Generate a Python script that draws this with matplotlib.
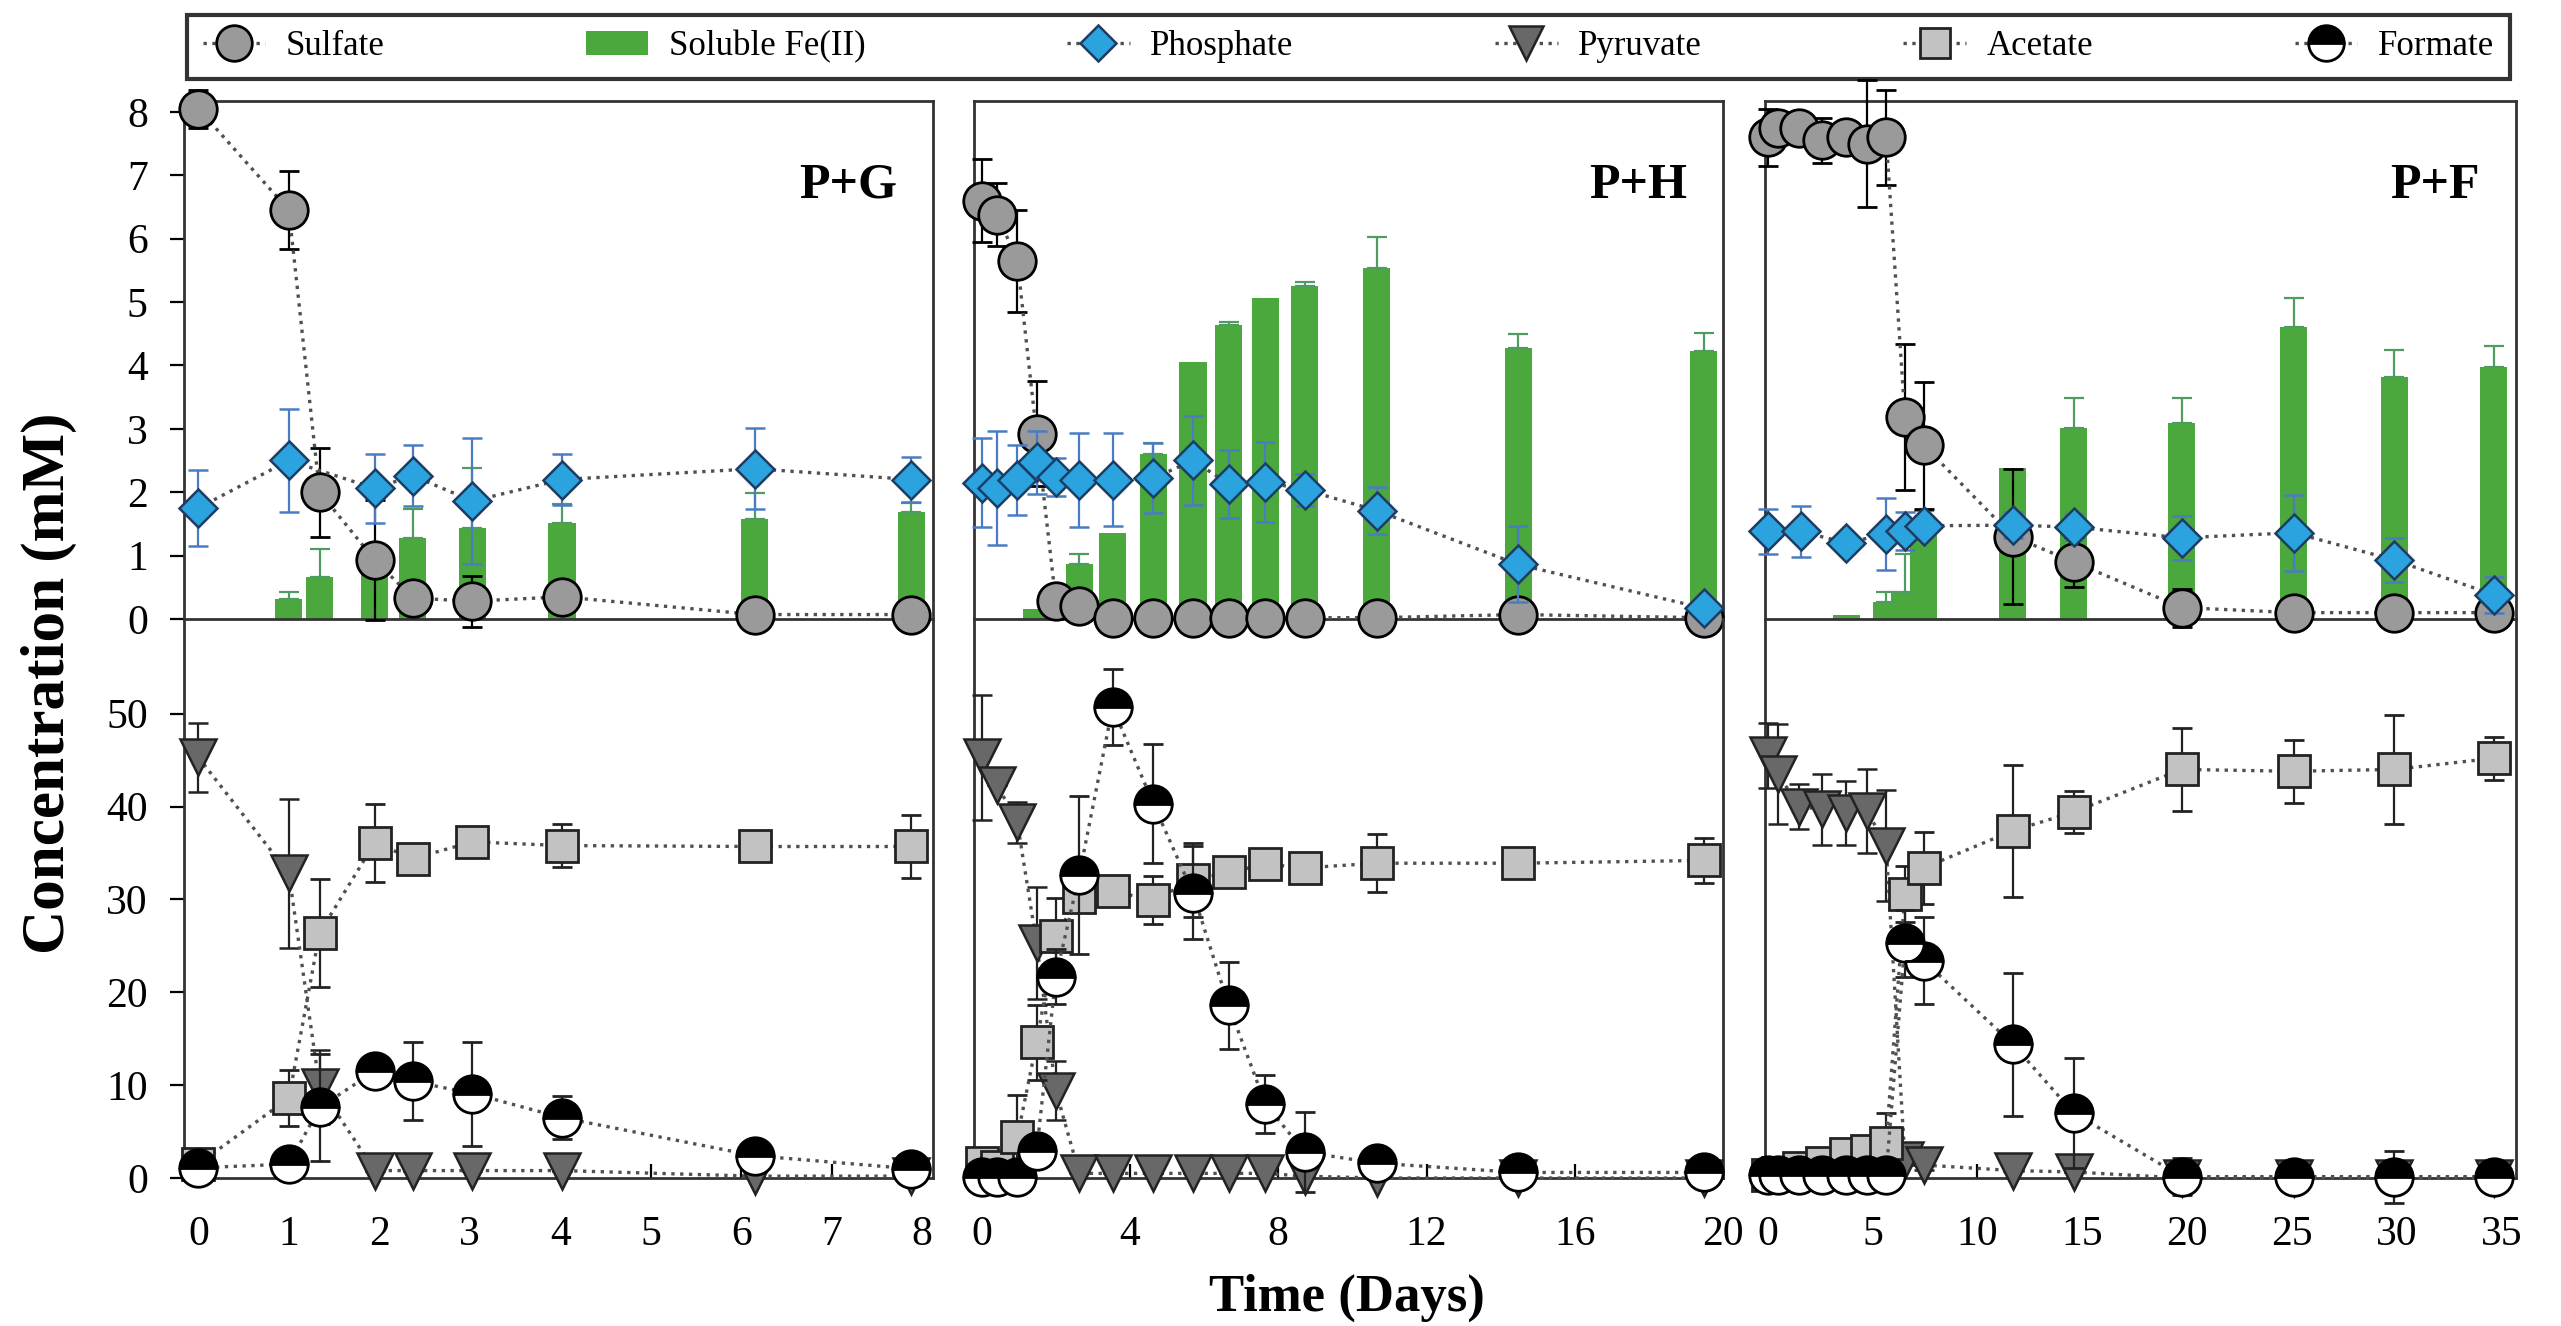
import matplotlib
matplotlib.use('Agg')
import matplotlib.pyplot as plt
import numpy as np
from matplotlib.lines import Line2D
from matplotlib.patches import Patch

plt.rcParams['font.family'] = ['Liberation Serif', 'DejaVu Serif']

# ---- data ----
# P+G
pg_days = [0, 1, 1.34, 1.95, 2.37, 3.03, 4.02, 6.15, 7.88]
pg_sulfate = [8.05, 6.45, 2.0, 0.93, 0.33, 0.28, 0.35, 0.07, 0.07]
pg_sulfate_err = [0.3, 0.62, 0.7, 0.95, 0.1, 0.4, 0.1, 0.05, 0.05]
pg_phos_days = [0, 1, 1.95, 2.37, 3.03, 4.02, 6.15, 7.88]
pg_phosphate = [1.75, 2.5, 2.06, 2.26, 1.86, 2.2, 2.37, 2.2]
pg_phosphate_err = [0.6, 0.82, 0.55, 0.48, 1.0, 0.4, 0.64, 0.35]
pg_fe_days = [1, 1.34, 1.95, 2.37, 3.03, 4.02, 6.15, 7.88]
pg_fe = [0.31, 0.67, 0.85, 1.28, 1.43, 1.51, 1.58, 1.68]
pg_fe_err = [0.12, 0.43, 0, 0.45, 0.95, 0.3, 0.41, 0.15]
pg_pyruvate = [45.3, 32.8, 9.8, 0.8, 0.8, 0.8, 0.8, 0.2, 0.2]
pg_pyruvate_err = [3.7, 8.0, 4.0, 0, 0, 0, 0, 0, 0]
pg_acetate = [1.5, 8.6, 26.4, 36.1, 34.4, 36.2, 35.8, 35.7, 35.7]
pg_acetate_err = [0.8, 3.0, 5.8, 4.2, 0.5, 0.5, 2.3, 0.5, 3.4]
pg_formate = [1.1, 1.5, 7.6, 11.5, 10.4, 9.1, 6.5, 2.4, 1.0]
pg_formate_err = [0.5, 0.5, 5.8, 1.0, 4.2, 5.6, 2.3, 1.5, 0.5]

# P+H
ph_days = [0, 0.42, 0.96, 1.48, 2.0, 2.63, 3.53, 4.63, 5.7, 6.66, 7.65, 8.71, 10.66, 14.47, 19.48]
ph_sulfate = [6.6, 6.38, 5.65, 2.92, 0.28, 0.21, 0.02, 0.02, 0.02, 0.02, 0.02, 0.02, 0.02, 0.07, 0.02]
ph_sulfate_err = [0.65, 0.5, 0.8, 0.83, 0.1, 0.05, 0, 0, 0, 0, 0, 0, 0, 0, 0]
ph_phosphate = [2.15, 2.06, 2.19, 2.47, 2.24, 2.19, 2.2, 2.22, 2.5, 2.13, 2.16, 2.04, 1.71, 0.86, 0.17]
ph_phosphate_err = [0.7, 0.9, 0.55, 0.5, 0.3, 0.74, 0.74, 0.55, 0.7, 0.53, 0.63, 0.25, 0.37, 0.6, 0.1]
ph_fe_days = [1.48, 2.63, 3.53, 4.63, 5.7, 6.66, 7.65, 8.71, 10.66, 14.47, 19.48]
ph_fe = [0.15, 0.86, 1.36, 2.6, 4.05, 4.63, 5.06, 5.26, 5.53, 4.27, 4.23]
ph_fe_err = [0, 0.17, 0, 0.18, 0, 0.05, 0, 0.05, 0.5, 0.23, 0.28]
ph_pyruvate = [45.3, 42.3, 38.3, 25.3, 9.4, 0.5, 0.5, 0.5, 0.5, 0.5, 0.5, 0.2, 0, 0, 0]
ph_pyruvate_err = [6.7, 0, 2.2, 6.0, 3.2, 0, 0, 0, 0, 0, 0, 0, 0, 0, 0]
ph_acetate = [1.6, 1.2, 4.4, 14.6, 26.1, 30.3, 30.9, 29.9, 32.1, 32.9, 33.8, 33.4, 33.9, 33.9, 34.2]
ph_acetate_err = [0.5, 0.5, 4.5, 4.0, 4.0, 0.5, 0.5, 2.6, 4.0, 0.5, 0.5, 0.5, 3.1, 0.5, 2.4]
ph_formate = [0.1, 0.1, 0.1, 2.9, 21.7, 32.6, 50.7, 40.3, 30.7, 18.6, 8.0, 2.8, 1.6, 0.6, 0.6]
ph_formate_err = [0, 0, 0, 1.0, 3.0, 8.5, 4.1, 6.4, 5.0, 4.7, 3.1, 4.3, 0.5, 0.3, 0.3]

# P+F
pf_days = [0, 0.5, 1.5, 2.6, 3.75, 4.75, 5.65, 6.55, 7.45, 11.7, 14.6, 19.75, 25.1, 29.9, 34.65]
pf_sulfate = [7.6, 7.75, 7.75, 7.55, 7.6, 7.5, 7.6, 3.19, 2.74, 1.3, 0.9, 0.18, 0.1, 0.1, 0.1]
pf_sulfate_err = [0.45, 0.2, 0.2, 0.35, 0.2, 1.0, 0.75, 1.15, 1.0, 1.06, 0.4, 0.3, 0.05, 0.05, 0.05]
pf_phos_days = [0, 1.6, 3.75, 5.65, 6.55, 7.45, 11.7, 14.6, 19.75, 25.1, 29.9, 34.65]
pf_phosphate = [1.38, 1.38, 1.2, 1.34, 1.39, 1.47, 1.48, 1.45, 1.28, 1.36, 0.93, 0.38]
pf_phosphate_err = [0.35, 0.4, 0.05, 0.57, 0.3, 0.15, 0.2, 0.2, 0.35, 0.6, 0.35, 0.28]
pf_fe_days = [3.75, 5.65, 6.55, 7.45, 11.7, 14.6, 19.75, 25.1, 29.9, 34.65]
pf_fe = [0.06, 0.26, 0.43, 1.36, 2.38, 3.02, 3.09, 4.61, 3.81, 3.97]
pf_fe_err = [0, 0.17, 0.6, 0.35, 0, 0.46, 0.4, 0.45, 0.43, 0.34]
pf_pyruvate = [45.5, 43.5, 40.0, 39.7, 39.3, 39.5, 35.8, 1.9, 1.4, 0.8, 0.65, 0, 0, 0, 0]
pf_pyruvate_err = [3.5, 5.4, 2.4, 3.8, 3.4, 4.5, 6.0, 0.5, 0.5, 0, 0, 0, 0, 0, 0]
pf_acetate = [0.3, 0.5, 1.1, 1.6, 2.6, 2.9, 3.8, 30.6, 33.4, 37.4, 39.4, 44.0, 43.8, 44.0, 45.2]
pf_acetate_err = [0, 0, 0, 0.3, 0.5, 0.5, 3.2, 3.0, 3.9, 7.1, 2.3, 4.5, 3.4, 5.9, 2.3]
pf_formate = [0.3, 0.3, 0.3, 0.3, 0.3, 0.3, 0.3, 25.3, 23.4, 14.4, 7.0, 0.15, 0.15, 0.15, 0.15]
pf_formate_err = [0, 0, 0, 0, 0, 0, 0, 3.6, 4.7, 7.7, 5.9, 2.0, 0.2, 2.8, 0.2]

panel_names = ['P+G', 'P+H', 'P+F']
x_ticks = [list(range(0, 9)), [0, 4, 8, 12, 16, 20], [0, 5, 10, 15, 20, 25, 30, 35]]
x_limits = [(-0.16, 8.12), (-0.21, 20.0), (-0.125, 35.7)]
bar_widths = [0.30, 0.73, 1.29]

# ---- styles ----
LINE = '#505050'
GREEN = '#4aa83c'
GREEN_ERR = '#4f9c62'
sulfate_style = dict(marker='o', ms=27, mfc='#9a9a9a', mec='black', mew=2)
phos_style = dict(marker='D', ms=19, mfc='#2ba3df', mec='#1d3d63', mew=1.8)
pyr_style = dict(marker='v', ms=26, mfc='#686868', mec='#222222', mew=1.8)
ace_style = dict(marker='s', ms=23, mfc='#c2c2c2', mec='#222222', mew=2)
form_style = dict(marker='o', ms=27, fillstyle='top', mfc='black',
                  mfcalt='white', mec='black', mew=2)


def series(ax, x, y, err, style, ecolor, z):
    c = ax.errorbar(x, y, yerr=err, ls=':', color=LINE, lw=2.4, ecolor=ecolor,
                    elinewidth=1.6, capsize=7, capthick=1.6, zorder=z, **style)
    for a in c.get_children():
        a.set_clip_on(False)


def fe_bars(ax, x, y, err, w):
    ax.bar(x, y, width=w, color=GREEN, zorder=1)
    x = np.array(x); y = np.array(y); err = np.array(err)
    m = err > 0
    ax.errorbar(x[m], y[m], yerr=[np.zeros(m.sum()), err[m]], fmt='none',
                ecolor=GREEN_ERR, elinewidth=1.6, capsize=7, capthick=1.6, zorder=1.5)


fig = plt.figure(figsize=(25.61, 13.26), dpi=100)

lefts = [0.0718, 0.3803, 0.6892]
widths = [0.2925, 0.2925, 0.2932]
data = [
    (pg_days, pg_sulfate, pg_sulfate_err, pg_phos_days, pg_phosphate, pg_phosphate_err,
     pg_fe_days, pg_fe, pg_fe_err, pg_pyruvate, pg_pyruvate_err, pg_acetate, pg_acetate_err,
     pg_formate, pg_formate_err),
    (ph_days, ph_sulfate, ph_sulfate_err, ph_days, ph_phosphate, ph_phosphate_err,
     ph_fe_days, ph_fe, ph_fe_err, ph_pyruvate, ph_pyruvate_err, ph_acetate, ph_acetate_err,
     ph_formate, ph_formate_err),
    (pf_days, pf_sulfate, pf_sulfate_err, pf_phos_days, pf_phosphate, pf_phosphate_err,
     pf_fe_days, pf_fe, pf_fe_err, pf_pyruvate, pf_pyruvate_err, pf_acetate, pf_acetate_err,
     pf_formate, pf_formate_err),
]

for i in range(3):
    (d, sul, sul_e, pd_, pho, pho_e, fd, fe, fe_e,
     pyr, pyr_e, ace, ace_e, frm, frm_e) = data[i]
    ax_t = fig.add_axes([lefts[i], 0.5332, widths[i], 0.3906])
    ax_b = fig.add_axes([lefts[i], 0.1116, widths[i], 0.4216])
    for ax in (ax_t, ax_b):
        ax.set_facecolor('none')
        ax.set_xlim(*x_limits[i])
        for s in ax.spines.values():
            s.set_linewidth(2)
            s.set_color('#333333')
    ax_b.spines['top'].set_visible(False)

    fe_bars(ax_t, fd, fe, fe_e, bar_widths[i])
    series(ax_t, d, sul, sul_e, sulfate_style, 'black', 3)
    series(ax_t, pd_, pho, pho_e, phos_style, '#4a7cc4', 4)
    ax_t.set_ylim(0, 8.17)
    ax_t.set_yticks(range(0, 9))
    ax_t.tick_params(axis='x', bottom=False, labelbottom=False)

    series(ax_b, d, pyr, pyr_e, pyr_style, '#222222', 3)
    series(ax_b, d, ace, ace_e, ace_style, '#222222', 4)
    series(ax_b, d, frm, frm_e, form_style, '#222222', 5)
    ax_b.set_ylim(0, 60.2)
    ax_b.set_yticks(range(0, 60, 10))
    ax_b.set_xticks(x_ticks[i])
    ax_b.tick_params(axis='x', direction='in', length=10, width=1.6, labelsize=30, pad=27)

    for ax in (ax_t, ax_b):
        if i == 0:
            ax.tick_params(axis='y', direction='out', length=10, width=1.6,
                           labelsize=30, pad=16)
        else:
            ax.tick_params(axis='y', left=False, labelleft=False)

    ax_t.text(0.952, 0.836, panel_names[i], transform=ax_t.transAxes, ha='right',
              va='center', fontsize=36, fontweight='bold')

fig.text(0.019, 0.485, 'Concentration (mM)', rotation=90, ha='center', va='center',
         fontsize=44, fontweight='bold')
fig.text(0.526, 0.021, 'Time (Days)', ha='center', va='center', fontsize=38,
         fontweight='bold')

handles = [
    Line2D([], [], ls=':', color=LINE, lw=2.4, **sulfate_style),
    Patch(facecolor=GREEN),
    Line2D([], [], ls=':', color=LINE, lw=2.4, **phos_style),
    Line2D([], [], ls=':', color=LINE, lw=2.4, **pyr_style),
    Line2D([], [], ls=':', color=LINE, lw=2.4, **ace_style),
    Line2D([], [], ls=':', color=LINE, lw=2.4, **form_style),
]
labels = ['Sulfate', 'Soluble Fe(II)', 'Phosphate', 'Pyruvate', 'Acetate', 'Formate']
leg = fig.legend(handles, labels, loc='lower left', bbox_to_anchor=(0.073, 0.9404, 0.907, 0.049),
                 mode='expand', ncol=6, frameon=True, fancybox=False, fontsize=25,
                 handlelength=1.8, handletextpad=0.6, borderaxespad=0, borderpad=0.45,
                 markerscale=0.95)
leg.get_frame().set_edgecolor('black')
leg.get_frame().set_linewidth(3)

fig.savefig('out.png', dpi=100)
